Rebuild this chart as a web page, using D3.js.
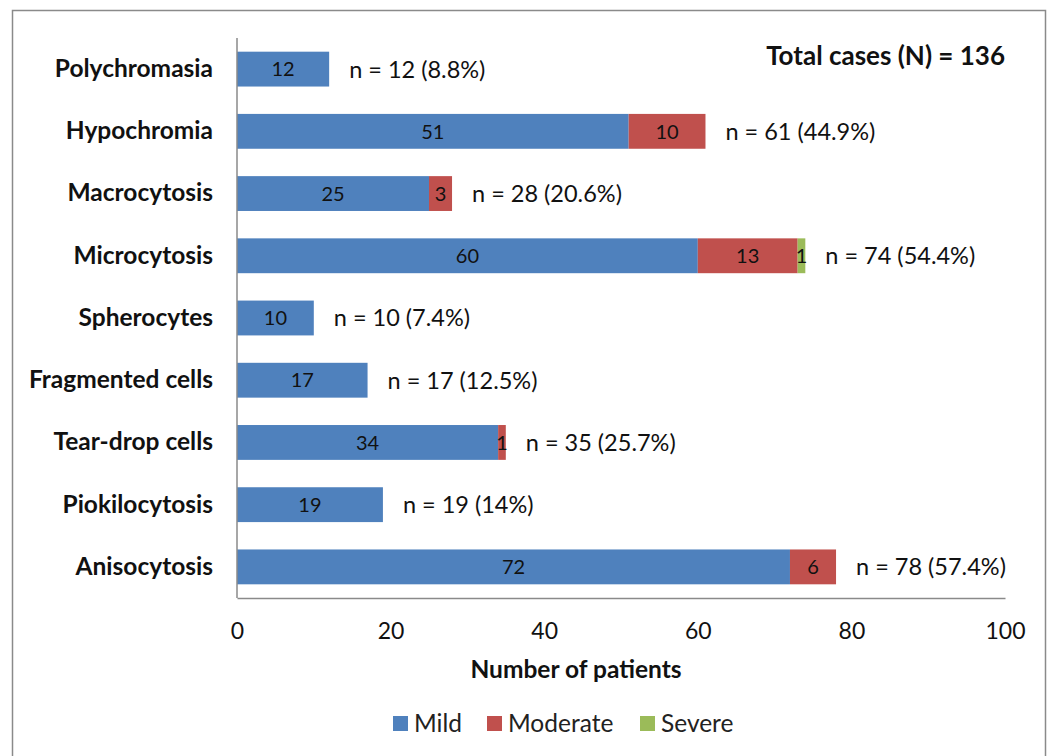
<!DOCTYPE html>
<html><head><meta charset="utf-8">
<script src="https://cdn.jsdelivr.net/npm/d3@7"></script>
<style>body{margin:0;background:#fff;} text{font-family:Lato, "Open Sans", sans-serif;}</style>
</head><body><svg id="c" width="1053" height="756"></svg>
<script>
const categories = ["Polychromasia","Hypochromia","Macrocytosis","Microcytosis","Spherocytes","Fragmented cells","Tear-drop cells","Piokilocytosis","Anisocytosis"];
const mild = [12,51,25,60,10,17,34,19,72];
const moderate = [0,10,3,13,0,0,1,0,6];
const severe = [0,0,0,1,0,0,0,0,0];
const totalLabels = ["n = 12 (8.8%)","n = 61 (44.9%)","n = 28 (20.6%)","n = 74 (54.4%)","n = 10 (7.4%)","n = 17 (12.5%)","n = 35 (25.7%)","n = 19 (14%)","n = 78 (57.4%)"];
const seriesNames = ["Mild","Moderate","Severe"];
const xTicks = [0,20,40,60,80,100];
const colors = ["#4F81BD","#C0504D","#9BBB59"];

const svg = d3.select("#c");
svg.append("rect").attr("x",12.5).attr("y",10.5).attr("width",1033).attr("height",760).attr("fill","none").attr("stroke","#8a8a8a").attr("stroke-width",1.5);

const x = d3.scaleLinear().domain([0,100]).range([237,1005]);
const y = d3.scaleBand().domain(categories).range([38,598]).paddingInner(0.44).paddingOuter(0.22);

const rows = categories.map((c,i)=>({cat:c, Mild:mild[i], Moderate:moderate[i], Severe:severe[i], label:totalLabels[i]}));
const stack = d3.stack().keys(seriesNames)(rows);

const g = svg.append("g");
stack.forEach((s,si)=>{
  g.selectAll(null).data(s.filter(d=>d[1]-d[0]>0)).enter().append("rect")
   .attr("x",d=>x(d[0])).attr("width",d=>x(d[1])-x(d[0]))
   .attr("y",d=>y(d.data.cat)).attr("height",y.bandwidth())
   .attr("fill",colors[si]);
  g.selectAll(null).data(s.filter(d=>d[1]-d[0]>0)).enter().append("text")
   .attr("x",d=>(x(d[0])+x(d[1]))/2).attr("y",d=>y(d.data.cat)+y.bandwidth()/2)
   .attr("dy","0.36em").attr("text-anchor","middle").attr("font-size",20).attr("fill","#111")
   .text(d=>d[1]-d[0]);
});
// total labels
g.selectAll(null).data(rows).enter().append("text")
  .attr("x",d=>x(d.Mild+d.Moderate+d.Severe)+20).attr("y",d=>y(d.cat)+y.bandwidth()/2)
  .attr("dy","0.36em").attr("font-size",23.5).attr("fill","#111").text(d=>d.label);

// y axis
const ya = svg.append("g").attr("transform","translate(237,0)").call(d3.axisLeft(y).tickSize(0).tickPadding(24));
ya.select(".domain").attr("stroke","#8a8a8a").attr("stroke-width",1.5).attr("d","M0,38V598");
ya.selectAll("text").attr("font-size",24.5).attr("font-weight","bold").attr("fill","#111").attr("font-family","Lato, sans-serif");

// x axis
const xa = svg.append("g").attr("transform","translate(0,598)").call(d3.axisBottom(x).tickValues(xTicks).tickSize(0).tickPadding(25));
xa.select(".domain").attr("stroke","#8a8a8a").attr("stroke-width",1.5);
xa.selectAll("text").attr("font-size",23).attr("fill","#111").attr("font-family","Lato, sans-serif");

svg.append("text").attr("x",576).attr("y",678).attr("text-anchor","middle")
  .attr("font-size",24.5).attr("font-weight","bold").attr("fill","#111").text("Number of patients");

svg.append("text").attr("x",1005).attr("y",65).attr("text-anchor","end")
  .attr("font-size",26).attr("font-weight","bold").attr("fill","#111").text("Total cases (N) = 136");

// legend
const legX = [393,487,640];
const lg = svg.append("g");
seriesNames.forEach((n,i)=>{
  lg.append("rect").attr("x",legX[i]).attr("y",716).attr("width",15).attr("height",15).attr("fill",colors[i]);
  lg.append("text").attr("x",legX[i]+21).attr("y",723).attr("dy","0.36em").attr("font-size",24.5).attr("fill","#222").text(n);
});
</script></body></html>
